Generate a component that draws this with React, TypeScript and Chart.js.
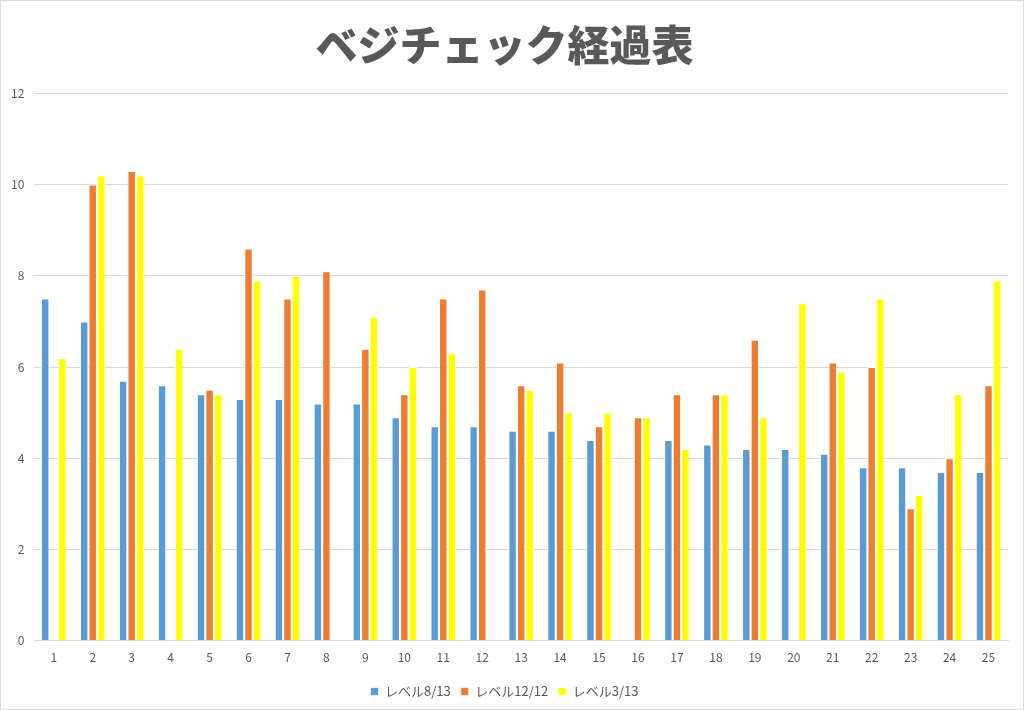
import { useEffect, useRef } from "react"
import { Chart, registerables, type ChartConfiguration } from "chart.js"

Chart.register(...registerables)

// 日付ごとのベジチェック値 (null = 記録なし)
const categories = Array.from({ length: 25 }, (_, i) => String(i + 1))
const level0813 = [7.5, 7.0, 5.7, 5.6, 5.4, 5.3, 5.3, 5.2, 5.2, 4.9, 4.7, 4.7, 4.6, 4.6, 4.4, null, 4.4, 4.3, 4.2, 4.2, 4.1, 3.8, 3.8, 3.7, 3.7]
const level1212 = [null, 10.0, 10.3, null, 5.5, 8.6, 7.5, 8.1, 6.4, 5.4, 7.5, 7.7, 5.6, 6.1, 4.7, 4.9, 5.4, 5.4, 6.6, null, 6.1, 6.0, 2.9, 4.0, 5.6]
const level0313 = [6.2, 10.2, 10.2, 6.4, 5.4, 7.9, 8.0, null, 7.1, 6.0, 6.3, null, 5.5, 5.0, 5.0, 4.9, 4.2, 5.4, 4.9, 7.4, 5.9, 7.5, 3.2, 5.4, 7.9]
const yTicks = [0, 2, 4, 6, 8, 10, 12]

const FONT = "'Noto Sans CJK JP', 'Noto Sans', sans-serif"
const TEXT = "#595959"
const GRID = "#d9d9d9"

export default function App() {
  const chartRef = useRef<HTMLCanvasElement>(null)
  const chartInstance = useRef<Chart | null>(null)

  useEffect(() => {
    document.body.style.margin = "0"
    if (!chartRef.current) return
    const ctx = chartRef.current.getContext("2d")
    if (!ctx) return

    if (chartInstance.current) {
      chartInstance.current.destroy()
    }

    const bar = (label: string, data: (number | null)[], color: string) => ({
      label,
      data,
      backgroundColor: color,
      borderColor: "#ffffff",
      borderWidth: { left: 1, right: 1, top: 1, bottom: 0 },
      categoryPercentage: 0.66,
      barPercentage: 0.98,
    })

    const config: ChartConfiguration = {
      type: "bar",
      data: {
        labels: categories,
        datasets: [
          bar("レベル8/13", level0813, "#5b9bd5"),
          bar("レベル12/12", level1212, "#ed7d31"),
          bar("レベル3/13", level0313, "#ffff00"),
        ] as any,
      },
      options: {
        responsive: false,
        animation: false,
        layout: { padding: { top: 19, left: 0, right: 15, bottom: 1 } },
        plugins: {
          title: {
            display: true,
            text: "ベジチェック経過表",
            color: TEXT,
            font: { family: FONT, size: 42, weight: 900 },
            padding: { top: 0, bottom: 23 },
          },
          legend: {
            position: "bottom",
            labels: {
              color: TEXT,
              font: { family: FONT, size: 13 },
              boxWidth: 8,
              boxHeight: 8,
              padding: 10,
            },
          },
          tooltip: { enabled: false },
        },
        scales: {
          x: {
            grid: { display: false, drawTicks: false },
            border: { color: GRID },
            ticks: { color: TEXT, font: { family: FONT, size: 12 }, padding: 10 },
          },
          y: {
            min: 0,
            max: 12,
            afterBuildTicks: (axis) => {
              axis.ticks = yTicks.map((v) => ({ value: v }))
            },
            grid: { color: GRID, drawTicks: false },
            border: { display: false },
            ticks: { color: TEXT, font: { family: FONT, size: 12 }, padding: 10 },
          },
        },
      },
    }

    chartInstance.current = new Chart(ctx, config)

    return () => {
      if (chartInstance.current) {
        chartInstance.current.destroy()
      }
    }
  }, [])

  return (
    <div style={{ width: 1024, height: 710, boxSizing: "border-box", border: "1px solid #d9d9d9", background: "#fff" }}>
      <canvas ref={chartRef} width={1022} height={708} />
    </div>
  )
}
